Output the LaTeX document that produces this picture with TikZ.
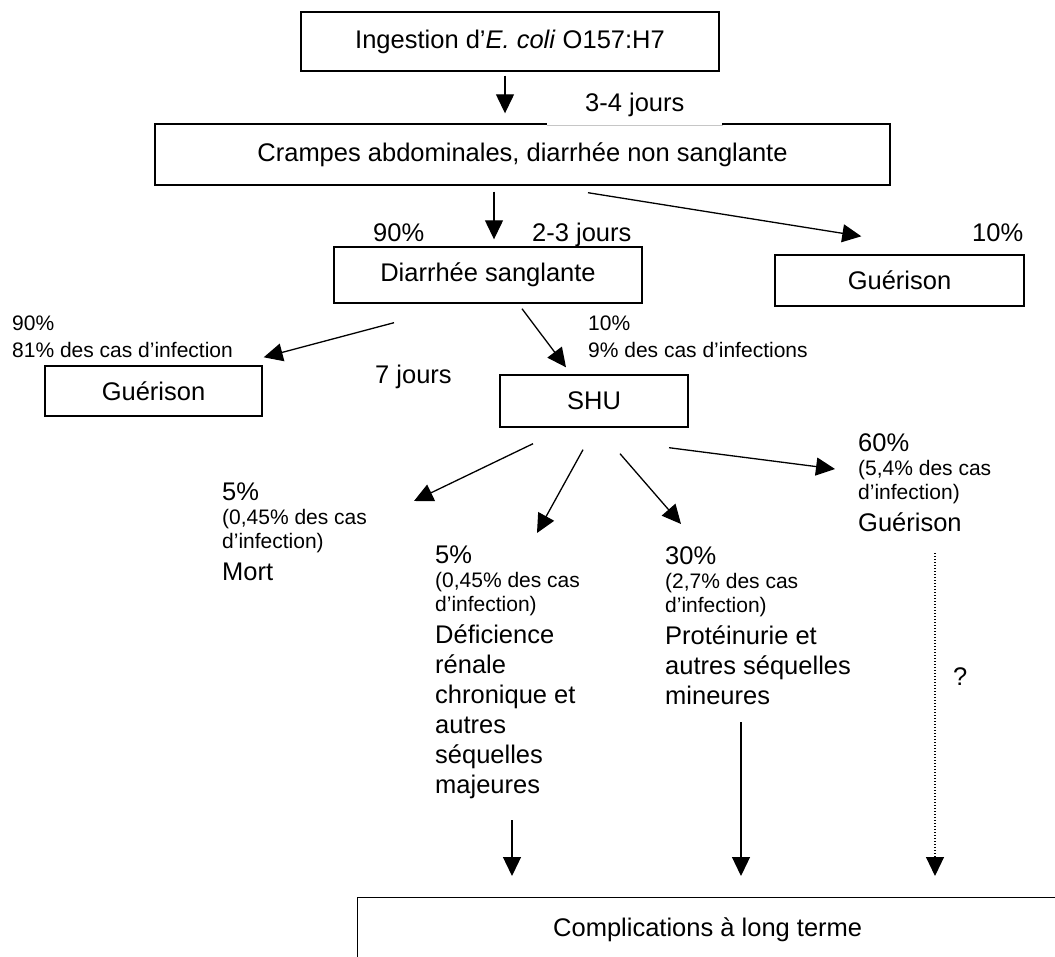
\documentclass[tikz,border=0pt]{standalone}
\usepackage{fontspec}
\setmainfont{Liberation Sans}
\usetikzlibrary{arrows.meta,calc}
\newcommand\bigf{\fontsize{25.5}{30}\selectfont}
\newcommand\smallf{\fontsize{21}{24}\selectfont}
\newcommand\twof{\fontsize{21}{27}\selectfont}
\begin{document}
\begin{tikzpicture}[x=1pt,y=-1pt,
  box/.style={draw, line width=1.4pt, inner sep=0pt, font=\bigf},
  lbl/.style={inner sep=0pt, font=\bigf, anchor=base west},
  twolbl/.style={inner sep=0pt, font=\twof, align=left, anchor=north west},
  grp/.style={inner sep=0pt, font=\smallf, align=left, anchor=north west},
  arr/.style={line width=1.3pt, -{Triangle[length=19pt,width=18pt]}},
  dotarr/.style={arr, line width=1.1pt, dash pattern=on 1.2pt off 1.8pt},
]
\useasboundingbox (0,0) rectangle (1055,956);
\fill[white] (0,0) rectangle (1055,956);

% boxes
\node[box, minimum width=418pt, minimum height=59pt] (ing) at (510,41.5) {Ingestion d’\textit{E. coli} O157:H7};
\node[box, minimum width=735pt, minimum height=61pt] (cramp) at (522.5,154.5) {Crampes abdominales, diarrhée non sanglante};
\node[box, minimum width=308pt, minimum height=56pt] (diar) at (488,275) {Diarrhée sanglante};
\node[box, minimum width=249pt, minimum height=51pt] (guer1) at (899.5,280.5) {Guérison};
\node[box, minimum width=217pt, minimum height=50pt] (guer2) at (153.5,391) {Guérison};
\node[box, minimum width=188pt, minimum height=52pt] (shu) at (594,401) {SHU};
\node[box, anchor=north west, minimum width=700pt, text height=19pt, text depth=50pt, inner ysep=20pt] (compl) at (357,897) {Complications à long terme};

% labels
\node[lbl, fill=white, inner xsep=38pt, inner ysep=0pt, text depth=14.4pt] (t34) at (547,111) {3-4 jours};
\draw[gray!45, line width=0.6pt] (t34.south west) -- (t34.south east);
\node[lbl] (p90) at (373,241) {90\%};
\node[lbl] (t23) at (532,241) {2-3 jours};
\node[lbl] (p10) at (972,241) {10\%};
\node[twolbl] (l90) at (12,315.7) {90\%\\81\% des cas d’infection};
\node[twolbl] (l10) at (588,315.7) {10\%\\9\% des cas d’infections};
\node[lbl] (t7) at (375,383) {7 jours};
\node[lbl] (q) at (953,685) {?};

% outcome groups
\node[grp] (mort) at (222,482.4) {{\bigf 5\%}\\(0,45\% des cas\\d’infection)\\[8pt]{\bigf Mort}};
\node[grp] (defi) at (435,545.4) {{\bigf 5\%}\\(0,45\% des cas\\d’infection)\\[8pt]{\bigf Déficience}\\[6pt]{\bigf rénale}\\[6pt]{\bigf chronique et}\\[6pt]{\bigf autres}\\[6pt]{\bigf séquelles}\\[6pt]{\bigf majeures}};
\node[grp] (prot) at (665,546.4) {{\bigf 30\%}\\(2,7\% des cas\\d’infection)\\[8pt]{\bigf Protéinurie et}\\[6pt]{\bigf autres séquelles}\\[6pt]{\bigf mineures}};
\node[grp] (g60) at (858,433.4) {{\bigf 60\%}\\(5,4\% des cas\\d’infection)\\[8pt]{\bigf Guérison}};

% connectors
\draw[arr] ($(ing.south)+(-5,4)$) -- ($(cramp.north)+(-17.5,-10)$);
\draw[arr] ($(cramp.south)+(-28.5,6)$) -- ($(diar.north)+(6,-7)$);
\draw[arr] ($(cramp.south)+(65.5,7)$) -- ($(guer1.north west)+(87,-18)$);
\draw[arr] ($(diar.south)+(-94,19)$) -- ($(guer2.north east)+(1,-8)$);
\draw[arr] ($(diar.south)+(34,5)$) -- ($(shu.north)+(-28,-7)$);
\draw[arr] ($(shu.south)+(-61,16)$) -- ($(mort.north west)+(192,18.6)$);
\draw[arr] ($(shu.south)+(-11,22)$) -- ($(defi.north west)+(102,-12.4)$);
\draw[arr] ($(shu.south)+(26,26)$) -- ($(prot.north west)+(16,-22.4)$);
\draw[arr] ($(shu.south)+(75,20)$) -- ($(g60.north west)+(-23,35.6)$);
\draw[arr] ($(defi.north west)+(77,274.6)$) -- ($(compl.north west)+(155,-21)$);
\draw[arr] ($(prot.north west)+(76,175.6)$) -- ($(compl.north west)+(384,-21)$);
\draw[dotarr] ($(g60.north west)+(77,119.6)$) -- ($(compl.north west)+(578,-21)$);
\end{tikzpicture}
\end{document}
